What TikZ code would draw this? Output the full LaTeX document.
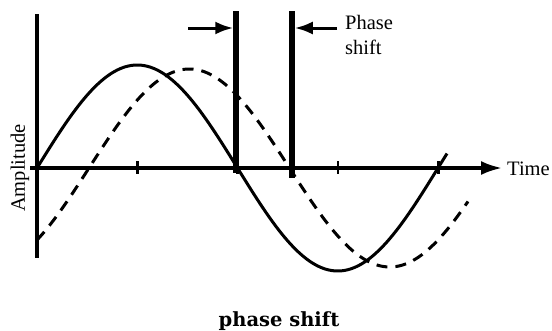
\documentclass[tikz,border=0pt]{standalone}
\usepackage{fontspec}
\setmainfont{Liberation Serif}
\newfontfamily\capfont{DejaVu Serif}
\usetikzlibrary{arrows.meta}
\tikzset{
  axisline/.style={line width=3.2bp},
  wave/.style={line width=3bp},
  shiftbar/.style={line width=5.5bp},
  shiftarrow/.style={line width=3bp,-{Latex[length=18bp,width=13bp]}},
  tickmark/.style={line width=2.8bp},
}
\begin{document}
\begin{tikzpicture}[x=1bp,y=1bp,every node/.style={inner sep=0pt,font=\fontsize{20.5bp}{25bp}\selectfont}]
\useasboundingbox (-37,-162) rectangle (515,168);
\coordinate (o) at (0,0);
\coordinate (ytop) at (0,154);
\coordinate (ybot) at (0,-90);
\coordinate (xstart) at (-7,0);
\node[anchor=base west] (time) at (470,-7) {Time};
\node[rotate=90,anchor=base] (amp) at (-12,0) {Amplitude};
\draw[axisline] (ytop) -- (ybot);
\draw[axisline,-{Latex[length=21bp,width=14bp]},shorten >=5bp] (xstart) -- (time.west |- o);
\foreach \k in {1,...,4}
  \draw[tickmark] (\k*100.3,7) -- (\k*100.3,-6);
\draw[wave] plot[domain=0:410,samples=150,smooth] (\x,{103*sin(\x/401*360)});
\draw[wave,dash pattern=on 11bp off 8bp] plot[domain=0:431,samples=150,smooth] (\x,{99*sin((\x-52)/401*360)});
\coordinate (bar1top) at (199,157);
\coordinate (bar1bot) at (199,-5);
\coordinate (bar2top) at (255,157);
\coordinate (bar2bot) at (255,-10);
\draw[shiftbar] (bar1top) -- (bar1bot);
\draw[shiftbar] (bar2top) -- (bar2bot);
\node[anchor=base west,align=left] (phaselabel) at (308,114) {Phase\\shift};
\coordinate (leftfrom) at (151,140);
\coordinate (rightfrom) at (300,140);
\draw[shiftarrow,shorten >=2.75bp] (leftfrom) -- (bar1top |- leftfrom);
\draw[shiftarrow,shorten >=2.75bp] (rightfrom) -- (bar2top |- rightfrom);
\node[anchor=base,font=\capfont\bfseries\fontsize{19.5bp}{22bp}\selectfont] (caption) at (242,-158) {phase shift};
\end{tikzpicture}
\end{document}
